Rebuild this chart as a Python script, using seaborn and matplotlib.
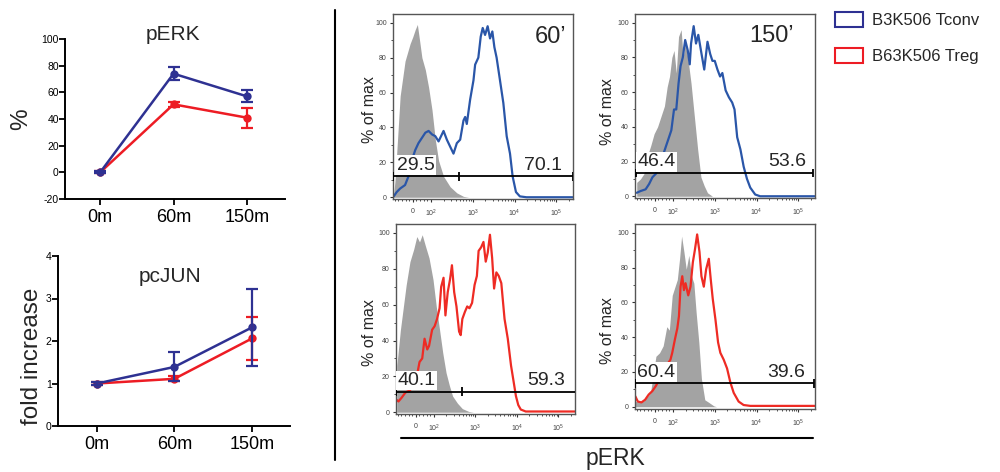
import pandas as pd
import matplotlib
matplotlib.use('Agg')
import matplotlib.pyplot as plt
import seaborn as sns
from matplotlib.patches import Patch
from matplotlib.lines import Line2D
import matplotlib.transforms as mtrans

# Summary time course (mean +/- error)
times = ['0m', '60m', '150m']
perk_tconv = [0, 74, 57]
perk_tconv_err = [0.8, 5, 4.5]
perk_treg = [0, 51, 41]
perk_treg_err = [0.8, 1.7, 7.5]
cjun_tconv = [1.0, 1.39, 2.32]
cjun_tconv_err = [0.03, 0.34, 0.9]
cjun_treg = [1.0, 1.11, 2.06]
cjun_treg_err = [0.04, 0.06, 0.5]

# Flow histograms (pERK intensity vs % of max)
t60_ctrl_x = [-108, -98, -70, -43, -15, 0, 13, 25, 37, 50, 69, 87, 106, 127, 152, 200, 288, 416, 600, 800]
t60_ctrl_y = [0, 10, 58, 78, 88, 92, 96, 99, 90, 80, 73, 63, 50, 33, 21, 12, 6, 2.5, 0.5, 0]
t60_tconv_x = [-105, -89, -70, -43, -24, -6, 13, 31, 50, 69, 87, 106, 127, 152, 200, 240, 288, 346, 416,
               500, 600, 658, 720, 866, 1040, 1140, 1360, 1550, 1730, 1970, 2270, 2590, 2940, 3290, 3720,
               4480, 5390, 6480, 7780, 8980, 10800, 13400, 19300, 245000]
t60_tconv_y = [0.6, 3, 5, 7, 12, 21, 27, 31, 34, 37, 38, 36, 35, 32, 38, 33, 29, 25, 31,
               33, 44, 46, 42, 56, 67, 76, 80, 92, 97, 93, 98, 91, 95, 86, 80,
               67, 54, 35, 25, 12, 3, 0.5, 0, 0]

t150_ctrl_x = [-100, -79, -60, -42, -23, -4, 15, 34, 53, 68, 81, 94, 106, 120, 136, 157, 175, 196, 226,
               271, 325, 390, 467, 560, 670, 880]
t150_ctrl_y = [8, 10, 13, 23, 29, 36, 40, 46, 52, 63, 69, 80, 84, 71, 92, 96, 80, 88, 80,
               65, 46, 27, 11, 6, 2, 0]
t150_tconv_x = [-100, -79, -51, -32, -13, 6, 25, 43, 62, 75, 91, 106, 120, 136, 152, 172, 196, 226, 252,
                271, 313, 356, 404, 467, 560, 670, 777, 880, 1000, 1160, 1340, 1520, 1820, 2180, 2610,
                2970, 3440, 4110, 4920, 5900, 7060, 9280, 12200, 245000]
t150_tconv_y = [2, 3, 4, 7, 11, 13, 17, 23, 29, 33, 38, 50, 50, 65, 75, 80, 90, 84, 76,
                88, 98, 88, 93, 84, 73, 89, 82, 78, 78, 73, 69, 71, 61, 57, 54,
                50, 34, 27, 17, 10, 5, 1, 0, 0]

t60r_ctrl_x = [-105, -85, -53, -32, -11, 6, 21, 36, 53, 74, 96, 115, 138, 165, 198, 237, 284, 372, 487, 698, 900]
t60r_ctrl_y = [26, 46, 71, 84, 91, 98, 95, 99, 93, 86, 74, 59, 46, 33, 22, 15, 9, 5, 2, 0.4, 0]
t60_treg_x = [-108, -96, -79, -57, -36, -15, 6, 21, 36, 49, 64, 74, 91, 105, 120, 138, 151, 172, 191,
              217, 246, 274, 310, 352, 407, 445, 487, 562, 638, 724, 836, 960, 1090, 1200, 1380, 1570,
              1780, 1990, 2250, 2540, 2830, 3210, 3660, 4220, 5050, 6040, 7230, 8350, 9480, 10800,
              12400, 16300, 245000]
t60_treg_y = [7, 6, 8, 11, 12, 14, 20, 28, 30, 41, 35, 37, 46, 48, 52, 58, 70, 75, 54,
              67, 74, 82, 67, 59, 45, 43, 52, 56, 59, 58, 61, 71, 76, 90, 92, 95,
              84, 89, 99, 86, 69, 78, 76, 72, 52, 41, 26, 17, 9, 4,
              1.5, 0.4, 0.4]

t150r_ctrl_x = [-108, -64, -24, 6, 26, 46, 66, 80, 96, 112, 127, 144, 161, 183, 208, 240, 278, 316, 359,
                416, 480, 578, 720, 950, 1100]
t150r_ctrl_y = [3, 3, 8, 29, 31, 35, 46, 44, 64, 69, 73, 85, 98, 89, 79, 87, 75, 71, 54,
                37, 16, 4, 2.5, 0.5, 0]
t150_treg_x = [-108, -94, -74, -54, -34, -14, 6, 26, 46, 66, 86, 96, 112, 127, 139, 152, 167, 183, 200,
               232, 263, 299, 334, 379, 431, 480, 547, 622, 720, 803, 895, 1040, 1200, 1360, 1640,
               1970, 2360, 2840, 3720, 4900, 7080, 245000]
t150_treg_y = [6, 3, 2.5, 4, 7, 9, 12, 16, 20, 24, 27, 31, 39, 45, 52, 69, 75, 67, 71,
               64, 69, 83, 90, 99, 89, 75, 69, 79, 85, 73, 62, 50, 37, 31, 27,
               22, 14, 8, 3, 1, 0.5, 0.5]

# Gates: (height, tick positions) and the two percentages
gate_heights = [12, 13.4, 11.5, 13.4]
gate_ticks = [[-108, 472, 245000], [-105, 229000], [-108, 487], [-108, 240000]]
gate_ends = [[-108, 245000], [-105, 229000], [-108, 250000], [-108, 240000]]
pct_low = ['29.5', '46.4', '40.1', '60.4']
pct_high = ['70.1', '53.6', '59.3', '39.6']
time_labels = ['60\u2019', '150\u2019', None, None]

NAVY = '#2e3192'
RED = '#ed1c24'
HBLUE = '#2a56a8'
HRED = '#ee2b24'
GREY = '#a3a3a3'

sns.set_theme(style='ticks')
plt.rcParams['font.family'] = ['Liberation Sans', 'DejaVu Sans']
plt.rcParams['mathtext.fontset'] = 'custom'
plt.rcParams['mathtext.rm'] = 'Liberation Sans'
plt.rcParams['mathtext.it'] = 'Liberation Sans:italic'

fig = plt.figure(figsize=(10, 4.72), dpi=100)
W, H = 1000, 472


def px_rect(x0, y0, x1, y1):
    return [x0 / W, 1 - y1 / H, (x1 - x0) / W, (y1 - y0) / H]


def summary(rect, tconv, tconv_err, treg, treg_err, ylim, yticks, xlim):
    ax = fig.add_axes(rect)
    pos = list(range(len(times)))
    df = pd.DataFrame({'pos': pos * 2, 'val': treg + tconv,
                       'cell': ['Treg'] * 3 + ['Tconv'] * 3})
    sns.lineplot(data=df, x='pos', y='val', hue='cell', hue_order=['Treg', 'Tconv'],
                 palette=[RED, NAVY], marker='o', markersize=6, markeredgewidth=0,
                 lw=1.8, legend=False, estimator=None, ax=ax)
    ax.errorbar(pos, treg, yerr=treg_err, fmt='none', ecolor=RED, elinewidth=1.6,
                capsize=4, capthick=1.6, zorder=3)
    ax.errorbar(pos, tconv, yerr=tconv_err, fmt='none', ecolor=NAVY, elinewidth=1.6,
                capsize=4, capthick=1.6, zorder=4)
    ax.set_xlim(*xlim)
    ax.set_ylim(*ylim)
    ax.set_xticks(pos)
    ax.set_xticklabels(times, fontsize=13)
    ax.set_yticks(yticks)
    ax.set_yticklabels([str(v) for v in yticks], fontsize=7.5)
    ax.set_xlabel('')
    ax.set_ylabel('')
    for s in ['top', 'right']:
        ax.spines[s].set_visible(False)
    for s in ['left', 'bottom']:
        ax.spines[s].set_color('black')
        ax.spines[s].set_linewidth(1.4)
    ax.tick_params(axis='y', length=4, width=1.3, pad=0.5, colors='black')
    ax.tick_params(axis='x', length=4, width=1.3, pad=3, colors='black')
    return ax


ax1 = summary(px_rect(65, 39, 285, 199), perk_tconv, perk_tconv_err, perk_treg, perk_treg_err,
              (-20, 100), [-20, 0, 20, 40, 60, 80, 100], (-0.48, 2.52))
ax1.text(0.49, 1.03, 'pERK', transform=ax1.transAxes, ha='center', va='center', fontsize=15)
ax1.text(-0.2, 0.5, '%', transform=ax1.transAxes, ha='center', va='center', rotation=90, fontsize=17.5)

ax2 = summary(px_rect(58, 256, 290, 426), cjun_tconv, cjun_tconv_err, cjun_treg, cjun_treg_err,
              (0, 4), [0, 1, 2, 3, 4], (-0.5, 2.49))
ax2.text(0.483, 0.878, 'pcJUN', transform=ax2.transAxes, ha='center', va='center', fontsize=15)
ax2.text(-0.112, 0.41, 'fold increase', transform=ax2.transAxes, ha='center', va='center',
         rotation=90, fontsize=17.5)

hist_rects = [px_rect(393, 14, 573, 199), px_rect(635, 14, 815, 198),
              px_rect(396, 224, 575, 414), px_rect(635, 224, 815, 408.5)]
hist_data = [(t60_ctrl_x, t60_ctrl_y, t60_tconv_x, t60_tconv_y, HBLUE),
             (t150_ctrl_x, t150_ctrl_y, t150_tconv_x, t150_tconv_y, HBLUE),
             (t60r_ctrl_x, t60r_ctrl_y, t60_treg_x, t60_treg_y, HRED),
             (t150r_ctrl_x, t150r_ctrl_y, t150_treg_x, t150_treg_y, HRED)]
ylabel_pos = [(-0.133, 0.486), (-0.155, 0.47), (-0.15, 0.43), (-0.155, 0.425)]
low_x = [0.02, 0.013, 0.01, 0.013]
high_x = [0.94, 0.95, 0.944, 0.944]
time_pos = [(0.963, 0.935), (0.883, 0.94)]

minor_x = [-100, -80, -60, -40, -20, 20, 40, 60, 80] + \
    [m * 10 ** e for e in (2, 3, 4) for m in range(2, 10)] + [2e5]

for i, rect in enumerate(hist_rects):
    cx, cy, sx, sy, col = hist_data[i]
    ax = fig.add_axes(rect)
    ax.set_xscale('symlog', linthresh=100, linscale=0.39)
    ax.fill_between(cx, cy, 0, color=GREY, lw=0, zorder=1)
    sns.lineplot(x=sx, y=sy, color=col, lw=1.6, estimator=None, sort=False, ax=ax, zorder=2)
    ax.set_xlim(-110, 2.5e5)
    ax.set_ylim(-1, 105)
    # gate
    gy = gate_heights[i]
    ax.hlines(gy, gate_ends[i][0], gate_ends[i][1], color='black', lw=1.3, zorder=3)
    ax.vlines(gate_ticks[i], gy - 2.5, gy + 2.5, color='black', lw=1.3, zorder=3)
    tr = mtrans.blended_transform_factory(ax.transAxes, ax.transData)
    bb = dict(facecolor='white', edgecolor='none', pad=1.0)
    ax.text(low_x[i], gy + 1.5, pct_low[i], transform=tr, ha='left', va='bottom',
            fontsize=14, bbox=bb, zorder=4)
    ax.text(high_x[i], gy + 1.5, pct_high[i], transform=tr, ha='right', va='bottom',
            fontsize=14, bbox=bb, zorder=4)
    if time_labels[i]:
        ax.text(time_pos[i][0], time_pos[i][1], time_labels[i], transform=ax.transAxes,
                ha='right', va='top', fontsize=17)
    ax.text(ylabel_pos[i][0], ylabel_pos[i][1], '% of max', transform=ax.transAxes,
            rotation=90, ha='center', va='center', fontsize=11.5)
    ax.set_xticks([0, 1e2, 1e3, 1e4, 1e5])
    ax.set_xticklabels(['0', '$10^2$', '$10^3$', '$10^4$', '$10^5$'])
    ax.set_xticks(minor_x, minor=True)
    ax.set_yticks([0, 20, 40, 60, 80, 100])
    ax.set_yticks([10, 30, 50, 70, 90], minor=True)
    ax.tick_params(axis='both', which='major', labelsize=5, labelcolor='#444444', length=2.5,
                   width=0.8, color='#333333', pad=2)
    ax.tick_params(axis='both', which='minor', length=1.5, width=0.6, color='#333333')
    ax.tick_params(axis='x', which='major', pad=4)
    ax.set_xlabel('')
    ax.set_ylabel('')
    for s in ax.spines.values():
        s.set_color('#555555')
        s.set_linewidth(1.0)

# divider and shared axis label
fig.add_artist(Line2D([0.335, 0.335], [1 - 10 / H, 1 - 460 / H], transform=fig.transFigure,
                      color='black', lw=1.5))
fig.add_artist(Line2D([401 / W, 813 / W], [1 - 438 / H, 1 - 438 / H], transform=fig.transFigure,
                      color='black', lw=1.5))
fig.text(0.615, 1 - 459 / H, 'pERK', ha='center', va='center', fontsize=16.5)

handles = [Patch(facecolor='white', edgecolor=NAVY, lw=1.5, label='B3K506 Tconv'),
           Patch(facecolor='white', edgecolor=RED, lw=1.5, label='B63K506 Treg')]
fig.legend(handles=handles, loc='upper left', bbox_to_anchor=(0.835, 1 - 12 / H), frameon=False,
           fontsize=12, handlelength=1.7, handleheight=1.0, labelspacing=1.2, handletextpad=0.55,
           borderpad=0, borderaxespad=0)

fig.savefig('out.png', dpi=100)
